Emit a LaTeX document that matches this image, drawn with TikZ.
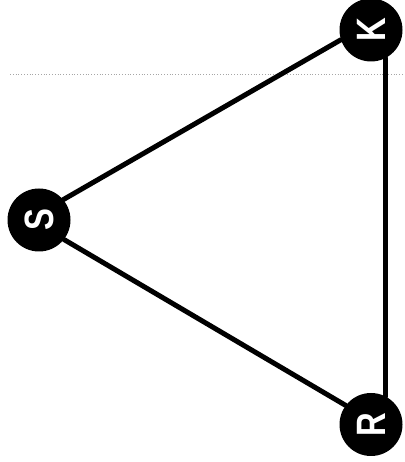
\documentclass[tikz,border=0pt]{standalone}
\usepackage{fontspec}
\setmainfont{Liberation Sans}
\begin{document}
\begin{tikzpicture}[x=1pt,y=1pt,
  vtx/.style={circle, fill=black, minimum size=63pt, inner sep=0pt, text=white,
    font=\bfseries\fontsize{41}{41}\selectfont},
  link/.style={line width=5pt, line cap=round}]
\useasboundingbox (0,0) rectangle (404,462);
\draw[black!35, dotted, line width=0.8pt] (10,388) -- (404,388);
\node[vtx] (K) at (371,432) {\rotatebox{90}{\scalebox{0.8}[1]{K}}};
\node[vtx] (S) at (39,242) {\rotatebox{90}{\scalebox{0.8}[1]{S}}};
\node[vtx] (R) at (371,37.5) {\rotatebox{90}{\scalebox{0.8}[1]{R}}};
\draw[link] (S.40) -- (K.198);
\draw[link] (S.-38) -- (R.143);
\draw[link] (K.-62) -- (R.62);
\end{tikzpicture}
\end{document}
